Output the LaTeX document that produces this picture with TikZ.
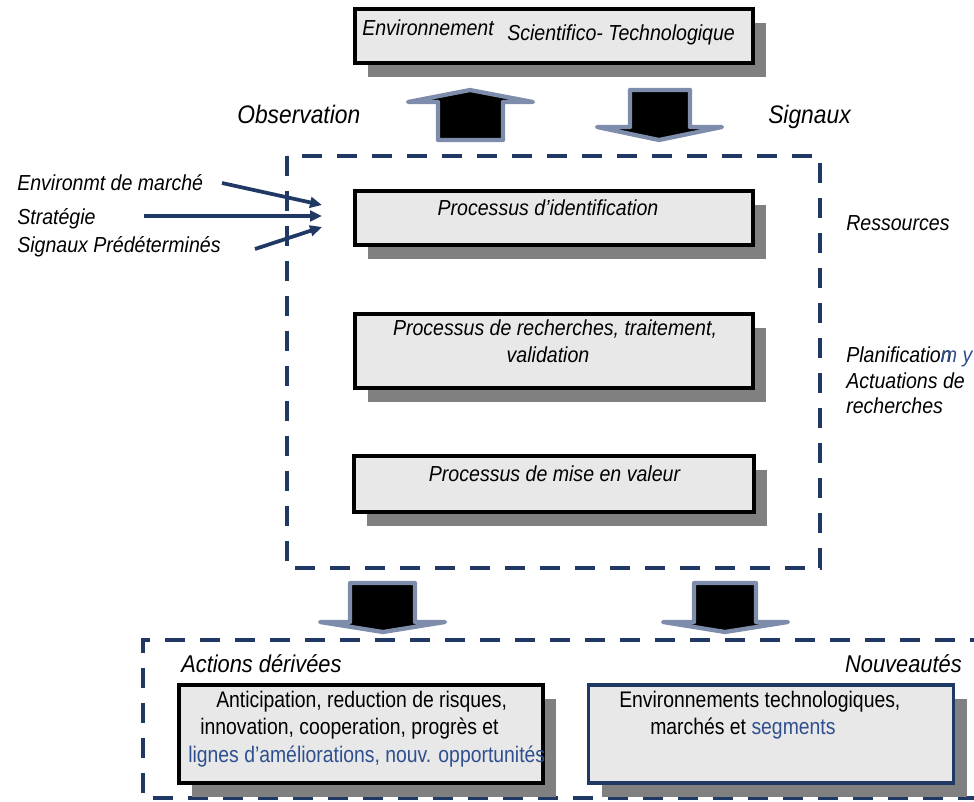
\documentclass[tikz,border=0pt]{standalone}
\usepackage{fontspec}
\setmainfont[FakeStretch=0.9]{Liberation Sans}
\newfontfamily\narrowfont[FakeStretch=0.86]{Liberation Sans}
\usetikzlibrary{arrows.meta,shadows}
\definecolor{navy}{HTML}{1F3864}
\definecolor{boxfill}{HTML}{E8E8E8}
\definecolor{shadowgray}{HTML}{808080}
\definecolor{arrowedge}{HTML}{7F8DAD}
\definecolor{bluetext}{HTML}{2F4F8F}
\begin{document}
\begin{tikzpicture}[x=0.75pt,y=-0.75pt,
  txt/.style={inner sep=0pt,font=\fontsize{16.3}{21}\selectfont\itshape},
  bigtxt/.style={inner sep=0pt,font=\fontsize{19}{23}\selectfont\itshape},
  midtxt/.style={inner sep=0pt,font=\fontsize{18.2}{22}\selectfont\itshape},
  uptxt/.style={inner sep=0pt,font=\narrowfont\fontsize{16.9}{21}\selectfont},
  shbox/.style={fill=boxfill,inner sep=0pt,
     drop shadow={shadow xshift=9.75pt,shadow yshift=-10.5pt,opacity=1,fill=shadowgray}},
  blackbox/.style={shbox,draw=black,line width=3pt},
  bluebox/.style={shbox,draw=navy,line width=2.4pt},
  dashline/.style={draw=navy,line width=3.4pt,dash pattern=on 15pt off 11.25pt},
  blockarrow/.style={fill=black,draw=arrowedge,line width=3.2pt,line join=round},
  inarrow/.style={draw=navy,line width=2.8pt,-{Triangle[length=9pt,width=8pt]}}]
\useasboundingbox (0,0) rectangle (974,801);
\clip (0,0) rectangle (974,801);

% dashed frames
\draw[dashline] (287,156) rectangle (820,568);
\draw[dashline] (990,640) -- (143,640) -- (143,798) -- (990,798);

% top environment box
\node[blackbox,minimum width=298.5pt,minimum height=40.5pt] (env) at (554,36) {};
\node[txt,anchor=base west] (envA) at (362,35) {Environnement};
\node[txt,anchor=base west] (envB) at (507,40) {Scientifico- Technologique};

% block arrows top
\draw[blockarrow] (438,140) -- (438,102) -- (408,102) -- (470,90) -- (533,102) -- (503,102) -- (503,140) -- cycle;
\draw[blockarrow] (630,90) -- (690,90) -- (690,127) -- (722,127) -- (659,140) -- (597,127) -- (630,127) -- cycle;
\node[bigtxt,anchor=base west] (obs) at (237,123) {Observation};
\node[bigtxt,anchor=base west] (sig) at (768,123) {Signaux};

% process boxes
\node[blackbox,minimum width=298.5pt,minimum height=40.5pt] (ident) at (554,218) {};
\node[txt,anchor=base] (identT) at (548,215) {Processus d’identification};
\node[blackbox,minimum width=298.5pt,minimum height=55.5pt] (rech) at (554,351) {};
\node[txt,anchor=base] (rechA) at (555,335) {Processus de recherches, traitement,};
\node[txt,anchor=base] (rechB) at (548,362) {validation};
\node[blackbox,minimum width=300pt,minimum height=42pt] (valeur) at (554,484) {};
\node[txt,anchor=base] (valT) at (554.5,481) {Processus de mise en valeur};

% left inputs
\node[txt,anchor=base west] (marche) at (17,190) {Environmt de marché};
\node[txt,anchor=base west] (strat) at (17,224) {Stratégie};
\node[txt,anchor=base west] (predet) at (17,252) {Signaux Prédéterminés};
\coordinate (s1) at (222,183);
\coordinate (s2) at (144,216);
\coordinate (s3) at (255,249);
\coordinate (t1) at (322,205);
\coordinate (t2) at (322,216);
\coordinate (t3) at (322,227);
\draw[inarrow] (s1) -- (t1);
\draw[inarrow] (s2) -- (t2);
\draw[inarrow] (s3) -- (t3);

% right labels
\node[txt,anchor=base west] (res) at (846,230) {Ressources};
\node[txt,anchor=base west] (plan1) at (846,362) {Planificatio\rlap{n}\textcolor{bluetext}{m y}};
\node[txt,anchor=base west] (plan2) at (846,388) {Actuations de};
\node[txt,anchor=base west] (plan3) at (846,413) {recherches};

% bottom block arrows
\draw[blockarrow] (350,583) -- (415,583) -- (415,622) -- (445,622) -- (383,632) -- (320,622) -- (350,622) -- cycle;
\draw[blockarrow] (694,583) -- (756,583) -- (756,622) -- (788,622) -- (725,632) -- (663,622) -- (694,622) -- cycle;

% bottom section
\node[midtxt,anchor=base west] (actions) at (181,672) {Actions dérivées};
\node[midtxt,anchor=base east] (nouv) at (962,672) {Nouveautés};
\node[blackbox,minimum width=273pt,minimum height=73.5pt] (antic) at (361,734) {};
\node[uptxt,anchor=base west] (anticA) at (216,707) {Anticipation, reduction de risques,};
\node[uptxt,anchor=base west] (anticB) at (200,734) {innovation, cooperation, progrès et};
\node[uptxt,anchor=base west,text=bluetext] (anticC) at (188,762) {lignes d’améliorations, nouv. opportunités};
\node[bluebox,minimum width=273.75pt,minimum height=73.5pt] (envtech) at (771,734) {};
\node[uptxt,anchor=base west] (envtA) at (619,707) {Environnements technologiques,};
\node[uptxt,anchor=base west] (envtB) at (650,734) {marchés et \textcolor{bluetext}{segments}};
\end{tikzpicture}
\end{document}
